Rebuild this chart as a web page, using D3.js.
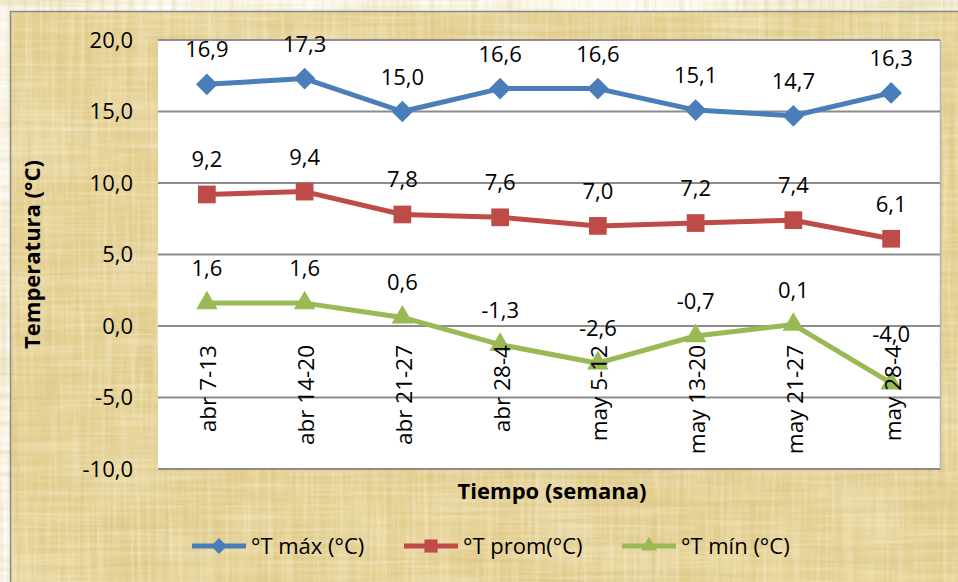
<!DOCTYPE html>
<html>
<head>
<meta charset="utf-8">
<script src="https://cdn.jsdelivr.net/npm/d3@7"></script>
<style>
  html, body { margin: 0; padding: 0; background: #ffffff; }
  svg { display: block; font-family: "Open Sans", "Liberation Sans", sans-serif; }
</style>
</head>
<body>
<svg id="chart" width="958" height="582"></svg>
<script>
// Weekly temperatures (°C)
const categories = ["abr 7-13", "abr 14-20", "abr 21-27", "abr 28-4",
                    "may 5-12", "may 13-20", "may 21-27", "may 28-4"];
const tMax  = [16.9, 17.3, 15.0, 16.6, 16.6, 15.1, 14.7, 16.3];
const tProm = [9.2, 9.4, 7.8, 7.6, 7.0, 7.2, 7.4, 6.1];
const tMin  = [1.6, 1.6, 0.6, -1.3, -2.6, -0.7, 0.1, -4.0];
const yTicks = [-10, -5, 0, 5, 10, 15, 20];
const seriesNames = ["°T máx (°C)", "°T prom(°C)", "°T mín (°C)"];

const seriesList = [
  { name: seriesNames[0], values: tMax,  color: "#4a7ebb", marker: "diamond" },
  { name: seriesNames[1], values: tProm, color: "#be4b48", marker: "square" },
  { name: seriesNames[2], values: tMin,  color: "#98b954", marker: "triangle" }
];

const esFormat = d3.formatLocale({
  decimal: ",", thousands: ".", grouping: [3], currency: ["", " €"], minus: "-"
}).format(".1f");

const svg = d3.select("#chart");
const W = 958, H = 582;
const plot = { left: 158, right: 940, top: 40, bottom: 469 };
const FS = 22;

// ---- parchment background ----
const defs = svg.append("defs");
function fiberFilter(id, freq, seed, rgb, gain, bias, octaves) {
  const f = defs.append("filter").attr("id", id)
    .attr("x", 0).attr("y", 0).attr("width", "100%").attr("height", "100%")
    .attr("filterUnits", "userSpaceOnUse");
  f.append("feTurbulence").attr("type", "fractalNoise")
    .attr("baseFrequency", freq).attr("numOctaves", octaves || 3).attr("seed", seed);
  f.append("feColorMatrix").attr("type", "matrix")
    .attr("values", `0 0 0 0 ${rgb[0]}  0 0 0 0 ${rgb[1]}  0 0 0 0 ${rgb[2]}  ${gain} 0 0 0 ${bias}`);
}
fiberFilter("fibH", "0.004 0.14", 4, [0.66, 0.54, 0.22], 2.4, -1.0);
fiberFilter("fibV", "0.14 0.004", 9, [0.66, 0.54, 0.22], 2.4, -1.0);
fiberFilter("fibH2", "0.01 0.25", 12, [0.98, 0.93, 0.76], 2.4, -1.0, 2);
fiberFilter("fibV2", "0.25 0.01", 15, [0.98, 0.93, 0.76], 2.4, -1.0, 2);
fiberFilter("blot", "0.012 0.012", 2, [0.96, 0.90, 0.72], 2.4, -1.1);
fiberFilter("blotDark", "0.009 0.02", 7, [0.80, 0.68, 0.32], 2.0, -0.85);

const bg = svg.append("g");
const layers = [
  { fill: "#e5cf90" },
  { filter: "blotDark", opacity: 0.55 },
  { filter: "blot", opacity: 0.3 },
  { filter: "fibH", opacity: 0.4 },
  { filter: "fibV", opacity: 0.4 },
  { filter: "fibH2", opacity: 0.3 },
  { filter: "fibV2", opacity: 0.3 }
];
layers.forEach(l => {
  const r = bg.append("rect").attr("x", 10.5).attr("y", 11.5).attr("width", W).attr("height", H);
  if (l.fill) r.attr("fill", l.fill);
  if (l.filter) r.attr("filter", `url(#${l.filter})`).attr("opacity", l.opacity);
});
bg.append("rect").attr("x", 10.5).attr("y", 11.5).attr("width", W).attr("height", H)
  .attr("fill", "none").attr("stroke", "#8a8a8a").attr("stroke-width", 1.5);

// ---- scales ----
const x = d3.scalePoint().domain(categories).range([plot.left, plot.right]).padding(0.5);
const y = d3.scaleLinear().domain([-10, 20]).range([plot.bottom, plot.top]);

// plot area
svg.append("rect").attr("x", plot.left).attr("y", plot.top)
  .attr("width", plot.right - plot.left).attr("height", plot.bottom - plot.top)
  .attr("fill", "#ffffff");
svg.append("line").attr("x1", plot.right + 0.5).attr("x2", plot.right + 0.5)
  .attr("y1", plot.top).attr("y2", plot.bottom + 1)
  .attr("stroke", "#b4b4b4").attr("stroke-width", 1.5);

// gridlines
svg.append("g").selectAll("line").data(yTicks).join("line")
  .attr("x1", plot.left).attr("x2", plot.right)
  .attr("y1", d => y(d)).attr("y2", d => y(d))
  .attr("stroke", "#8c8c8c").attr("stroke-width", 2);

// y axis
const yAxis = svg.append("g").attr("transform", `translate(${plot.left - 25},0)`)
  .call(d3.axisLeft(y).tickValues(yTicks).tickSize(0).tickPadding(0).tickFormat(esFormat));
yAxis.select(".domain").remove();
yAxis.selectAll("text").attr("font-size", FS).attr("fill", "#000")
  .attr("font-family", "'Open Sans', sans-serif");

// series lines and markers
const line = d3.line().x((d, i) => x(categories[i])).y(d => y(d));
const symbolType = { diamond: d3.symbolDiamond2, square: d3.symbolSquare2, triangle: d3.symbolTriangle2 };
const symbolSize = { diamond: 300, square: 400, triangle: 330 };

seriesList.forEach(s => {
  svg.append("path").datum(s.values).attr("d", line)
    .attr("fill", "none").attr("stroke", s.color).attr("stroke-width", 5)
    .attr("stroke-linejoin", "round").attr("stroke-linecap", "round");
  svg.append("g").selectAll("path").data(s.values).join("path")
    .attr("transform", (d, i) => `translate(${x(categories[i])},${y(d)})`)
    .attr("d", d3.symbol().type(symbolType[s.marker]).size(symbolSize[s.marker]))
    .attr("fill", s.color);
});

// category axis through zero
const xAxis = svg.append("g").attr("transform", `translate(0,${y(0)})`)
  .call(d3.axisBottom(x).tickSize(0));
xAxis.select(".domain").remove();
xAxis.selectAll("text")
  .attr("transform", "rotate(-90)")
  .attr("x", -19).attr("y", 0).attr("dy", "0.4em")
  .attr("text-anchor", "end")
  .attr("font-size", FS + 0.5).attr("fill", "#000")
  .attr("font-family", "'Open Sans', sans-serif");

// data labels
const labelNudge = { 2: { 7: -14 } };
seriesList.forEach((s, si) => {
  svg.append("g").selectAll("text").data(s.values).join("text")
    .attr("x", (d, i) => x(categories[i]))
    .attr("y", (d, i) => y(d) - 27 + ((labelNudge[si] && labelNudge[si][i]) || 0))
    .attr("text-anchor", "middle").attr("font-size", FS).attr("fill", "#000")
    .text(d => esFormat(d));
});

// axis titles
svg.append("text")
  .attr("transform", `translate(40,${(plot.top + plot.bottom) / 2}) rotate(-90)`)
  .attr("text-anchor", "middle").attr("font-size", FS).attr("font-weight", "bold")
  .text("Temperatura (°C)");
svg.append("text")
  .attr("x", 552).attr("y", 499)
  .attr("text-anchor", "middle").attr("font-size", FS).attr("font-weight", "bold")
  .text("Tiempo (semana)");

// legend
const legendX = [192, 404, 622];
const legend = svg.append("g").attr("transform", "translate(0,546)");
seriesList.forEach((s, i) => {
  const g = legend.append("g").attr("transform", `translate(${legendX[i]},0)`);
  g.append("line").attr("x1", 0).attr("x2", 54).attr("stroke", s.color).attr("stroke-width", 5);
  g.append("path").attr("transform", "translate(27,0)")
    .attr("d", d3.symbol().type(symbolType[s.marker]).size(symbolSize[s.marker] * 0.55))
    .attr("fill", s.color);
  g.append("text").attr("x", 59).attr("dy", "0.35em")
    .attr("font-size", FS).attr("fill", "#000").text(s.name);
});
</script>
</body>
</html>
